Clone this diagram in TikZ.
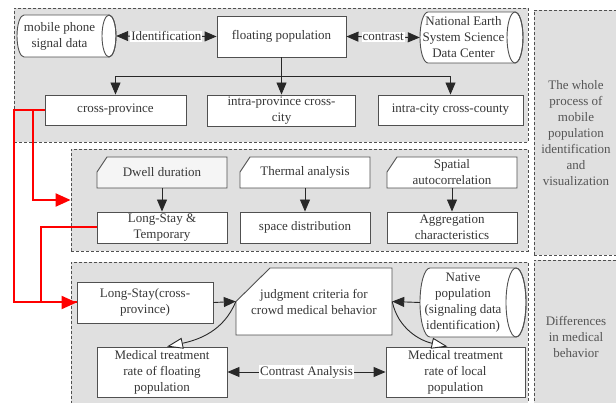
\documentclass[tikz,border=0pt]{standalone}
\usepackage{fontspec}
\setmainfont{Liberation Serif}
\usetikzlibrary{arrows.meta,calc}
\definecolor{grp}{RGB}{224,224,224}
\definecolor{bd}{RGB}{80,80,80}
\definecolor{txt}{RGB}{55,55,55}
\definecolor{lab}{RGB}{85,85,85}
\definecolor{arr}{RGB}{40,40,40}
\definecolor{card}{RGB}{245,245,245}
\begin{document}
\begin{tikzpicture}[x=1pt,y=-1pt,
  every node/.style={font=\fontsize{13}{16}\selectfont, text=txt, inner sep=0pt, align=center},
  box/.style={draw=bd, line width=0.9pt, fill=white},
  grpbox/.style={draw=bd, line width=0.8pt, fill=grp, dash pattern=on 3pt off 2pt},
  lbl/.style={fill=white, inner sep=1pt},
  tip/.style={-{Triangle[length=12pt,width=10pt]}, draw=arr, line width=0.9pt},
  dtip/.style={{Triangle[length=12pt,width=10pt]}-{Triangle[length=12pt,width=10pt]}, draw=arr, line width=0.9pt},
  otip/.style={-{Triangle[open,fill=white,length=16pt,width=11pt]}, draw=arr, line width=0.9pt},
  redtip/.style={-{Triangle[length=15pt,width=13pt]}, draw=red, line width=2pt},
  redline/.style={draw=red, line width=2pt}
]
\useasboundingbox (0,0) rectangle (616,403);
\clip (0,0) rectangle (616,403);
% groups
\node[grpbox, minimum width=514, minimum height=134] (topgrp) at (271,75) {};
\node[grpbox, minimum width=457, minimum height=102] (midgrp) at (299.5,200) {};
\node[grpbox, minimum width=457, minimum height=152] (botgrp) at (299.5,338) {};
\node[grpbox, minimum width=84, minimum height=245, text=lab] (lab1) at (576,133)
  {The whole\\process of\\mobile\\population\\identification\\and\\visualization};
\node[grpbox, minimum width=84, minimum height=154, text=lab] (lab2) at (576,337)
  {Differences\\in medical\\behavior};

% cylinders
\filldraw[box] (109,15) -- (24,15) arc[start angle=270,end angle=90,x radius=7,y radius=21]
  -- (109,57) arc[start angle=90,end angle=-90,x radius=7,y radius=21] -- cycle;
\draw[draw=bd, line width=0.9pt] (109,36) ellipse[x radius=7,y radius=21];
\node[minimum width=85, minimum height=42] (mob) at (59.5,36) {mobile phone\\signal data};

\filldraw[box] (515,12) -- (428,12) arc[start angle=270,end angle=90,x radius=8,y radius=25.5]
  -- (515,63) arc[start angle=90,end angle=-90,x radius=8,y radius=25.5] -- cycle;
\draw[draw=bd, line width=0.9pt] (515,37.5) ellipse[x radius=8,y radius=25.5];
\node[minimum width=87, minimum height=51] (nat) at (463.5,37.5) {National Earth\\System Science\\Data Center};

\filldraw[box] (516,268) -- (430,268) arc[start angle=270,end angle=90,x radius=10,y radius=34.5]
  -- (516,337) arc[start angle=90,end angle=-90,x radius=10,y radius=34.5] -- cycle;
\draw[draw=bd, line width=0.9pt] (516,302.5) ellipse[x radius=10,y radius=34.5];
\node[minimum width=86, minimum height=69] (native) at (463,302.5) {Native\\population\\(signaling data\\identification)};

% top boxes
\node[box, minimum width=129, minimum height=41] (floating) at (281.5,36.5) {floating population};
\node[box, minimum width=141, minimum height=30] (cross) at (115.5,110) {cross-province};
\node[box, minimum width=148, minimum height=31] (intraprov) at (281.5,110.5) {intra-province cross-\\city};
\node[box, minimum width=145, minimum height=30] (intracity) at (450.5,110) {intra-city cross-county};

% middle: chamfered cards
\filldraw[draw=bd, line width=0.9pt, fill=card] (97,188) -- (97,172) -- (107,157) -- (227,157) -- (227,188) -- cycle;
\filldraw[box] (240,188) -- (240,172) -- (250,157) -- (370,157) -- (370,188) -- cycle;
\filldraw[box] (387,188) -- (387,172) -- (397,157) -- (517,157) -- (517,188) -- cycle;
\node[minimum width=130, minimum height=31] (dwell) at (162,172.5) {Dwell duration};
\node[minimum width=130, minimum height=31] (thermal) at (305,172.5) {Thermal analysis};
\node[minimum width=130, minimum height=31] (spatial) at (452,172.5) {Spatial\\autocorrelation};
\node[box, minimum width=130, minimum height=31] (longstay) at (162,227.5) {Long-Stay \&\\Temporary};
\node[box, minimum width=130, minimum height=31] (space) at (305,227.5) {space distribution};
\node[box, minimum width=130, minimum height=31] (aggr) at (452,227.5) {Aggregation\\characteristics};

% bottom
\node[box, minimum width=136, minimum height=41] (lscross) at (145,302.5) {Long-Stay(cross-\\province)};
\filldraw[box] (236,335) -- (236,301.5) -- (270,268) -- (392,268) -- (392,335) -- cycle;
\node[minimum width=156, minimum height=67] (judg) at (314,301.5) {judgment criteria for\\crowd medical behavior};
\node[box, minimum width=130, minimum height=50] (medf) at (162,372) {Medical treatment\\rate of floating\\population};
\node[box, minimum width=139, minimum height=50] (medl) at (455.5,372) {Medical treatment\\rate of local\\population};

% connectors top
\draw[dtip] ([xshift=14pt]mob.east) -- node[lbl]{Identification} (floating.west);
\draw[dtip] (floating.east) -- node[lbl]{contrast} (nat.west);
\draw[tip] (floating.south) -- (intraprov.north);
\draw[tip] (floating.south) -- ++(0,19) -| (cross.north);
\draw[tip] (floating.south) -- ++(0,19) -| (intracity.north);

% connectors middle
\draw[tip] (dwell.south) -- (longstay.north);
\draw[tip] (thermal.south) -- (space.north);
\draw[tip] (spatial.south) -- (aggr.north);

% connectors bottom
\draw[tip] (lscross.east) -- (judg.west);
\draw[tip] (native.west) -- (judg.east);
\draw[otip] (judg.west) to[out=-112,in=12] ([xshift=5pt]medf.north);
\draw[otip] (judg.east) to[out=-78,in=168] ([xshift=-8pt]medl.north);
\draw[dtip] (medf.east) -- node[lbl]{Contrast Analysis} (medl.west);

% red connectors
\draw[redline] (longstay.west) -- ++(-56,0) |- (lscross.west);
\draw[redtip] (cross.west) -- ++(-31,0) |- (lscross.west);
\draw[redtip] ([xshift=-12pt]cross.west) |- (midgrp.west);
\end{tikzpicture}
\end{document}
